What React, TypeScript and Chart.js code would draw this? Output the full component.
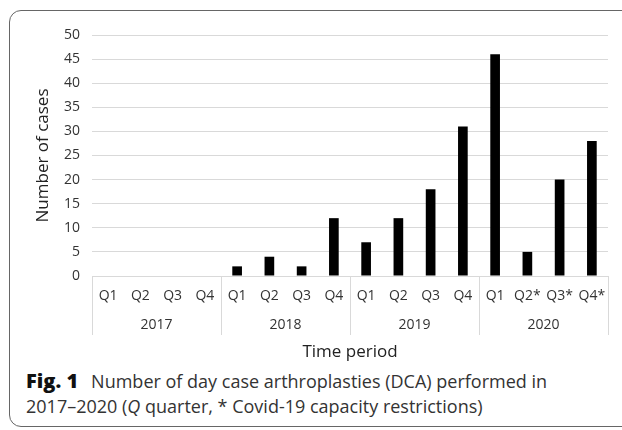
import React, { useEffect, useRef } from "react";
import { Chart, registerables } from "chart.js";

Chart.register(...registerables);

const quarters = ["Q1", "Q2", "Q3", "Q4", "Q1", "Q2", "Q3", "Q4", "Q1", "Q2", "Q3", "Q4", "Q1", "Q2*", "Q3*", "Q4*"];
const years = ["2017", "2018", "2019", "2020"];
const cases = [0, 0, 0, 0, 2, 4, 2, 12, 7, 12, 18, 31, 46, 5, 20, 28];
const yTicks = [0, 5, 10, 15, 20, 25, 30, 35, 40, 45, 50];

const FONT = "'Open Sans', 'Lato', sans-serif";

const separatorPlugin = {
  id: "yearSeparators",
  afterDraw(chart: any) {
    const x = chart.scales.x;
    const x2 = chart.scales.x2;
    if (!x || !x2) return;
    const ctx = chart.ctx;
    const step = x.getPixelForValue(1) - x.getPixelForValue(0);
    const top = chart.chartArea.bottom;
    const end = x2.top + 30;
    ctx.save();
    ctx.strokeStyle = "#d9d9d9";
    ctx.lineWidth = 1;
    for (let i = 0; i <= years.length; i++) {
      const idx = i * 4;
      let px = idx < quarters.length ? x.getPixelForValue(idx) - step / 2 : x.getPixelForValue(quarters.length - 1) + step / 2;
      px = Math.round(px) + 0.5;
      ctx.beginPath();
      ctx.moveTo(px, top);
      ctx.lineTo(px, end);
      ctx.stroke();
    }
    ctx.restore();
  },
};

export default function App() {
  const ref = useRef<HTMLCanvasElement>(null);
  useEffect(() => {
    if (!ref.current) return;
    const chart = new Chart(ref.current, {
      type: "bar",
      data: {
        labels: quarters,
        datasets: [
          {
            data: cases,
            backgroundColor: "#000000",
            borderWidth: 0,
            barPercentage: 0.3,
            categoryPercentage: 1,
            xAxisID: "x",
          },
        ],
      },
      options: {
        responsive: false,
        animation: false,
        maintainAspectRatio: false,
        layout: { padding: { left: 30, right: 14, top: 35, bottom: 0 } },
        plugins: { legend: { display: false }, tooltip: { enabled: false } },
        scales: {
          x: {
            type: "category",
            position: "bottom",
            weight: 0,
            grid: { display: false, drawTicks: false },
            border: { display: true, color: "#d9d9d9" },
            ticks: {
              autoSkip: false,
              maxRotation: 0,
              padding: 12,
              color: "#333333",
              font: { family: FONT, size: 14 },
            },
            afterFit: (s: any) => {
              s.height = 29;
            },
          },
          x2: {
            type: "category",
            position: "bottom",
            weight: 1,
            labels: years,
            offset: true,
            grid: { display: false, drawTicks: false },
            border: { display: false },
            ticks: {
              autoSkip: false,
              maxRotation: 0,
              padding: 12,
              color: "#333333",
              font: { family: FONT, size: 14 },
            },
            title: {
              display: true,
              text: "Time period",
              color: "#222222",
              font: { family: FONT, size: 17 },
              padding: { top: 0, bottom: 0 },
            },
            afterFit: (s: any) => {
              s.height = 57;
            },
          },
          y: {
            min: 0,
            max: 50,
            afterBuildTicks: (s: any) => {
              s.ticks = yTicks.map((v) => ({ value: v }));
            },
            afterFit: (s: any) => {
              s.width = 62;
            },
            grid: { color: "#d9d9d9", drawTicks: false },
            border: { display: false },
            ticks: {
              padding: 12,
              color: "#333333",
              font: { family: FONT, size: 14 },
            },
            title: {
              display: true,
              text: "Number of cases",
              color: "#222222",
              font: { family: FONT, size: 17 },
              padding: { top: 3, bottom: 0 },
            },
          },
        },
      },
      plugins: [separatorPlugin],
    });
    return () => chart.destroy();
  }, []);

  return (
    <div style={{ position: "fixed", left: 0, top: 0, width: 622, height: 430, overflow: "hidden", background: "#fff" }}>
      <div
        style={{
          position: "absolute",
          left: 9,
          top: 10,
          width: 660,
          height: 417,
          border: "1px solid #666",
          borderRadius: 12,
          boxSizing: "border-box",
        }}
      />
      <canvas ref={ref} width={622} height={362} style={{ position: "absolute", left: 0, top: 0, width: 622, height: 362 }} />
      <div
        style={{
          position: "absolute",
          left: 26,
          top: 368,
          fontFamily: FONT,
          fontSize: 18,
          lineHeight: "25px",
          color: "#333",
          whiteSpace: "nowrap",
        }}
      >
        <div>
          <span style={{ fontWeight: 800, fontSize: 20, color: "#111", marginRight: 13 }}>Fig. 1</span>
          Number of day case arthroplasties (DCA) performed in
        </div>
        <div>
          2017–2020 (<i>Q</i> quarter, * Covid-19 capacity restrictions)
        </div>
      </div>
    </div>
  );
}
